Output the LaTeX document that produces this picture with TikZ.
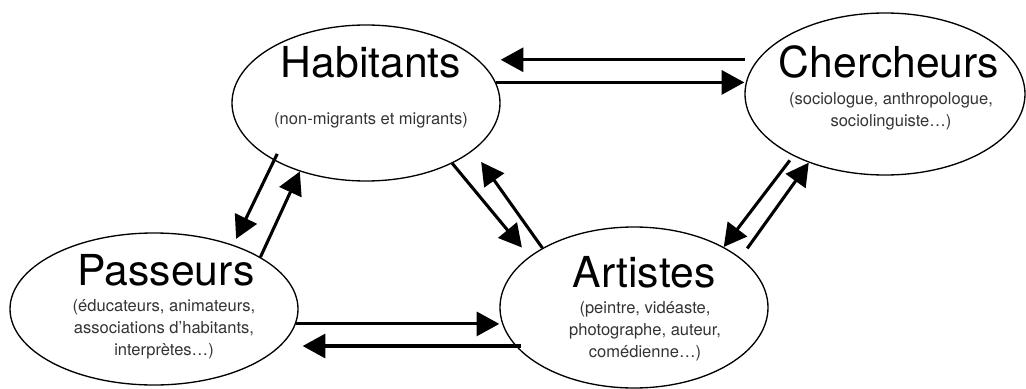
\documentclass[tikz,border=0pt]{standalone}
\usepackage{fontspec}
\setmainfont{TeX Gyre Heros}
\usetikzlibrary{arrows.meta,shapes.geometric}

\tikzset{every picture/.style={line width=0.75pt}}
\tikzset{
  bulle/.style={draw, ellipse, line width=1pt, inner sep=0pt},
  fleche/.style={-{Triangle[length=17pt,width=18pt]}, line width=2.3pt},
  titre/.style={anchor=base, font=\fontsize{32}{38}\selectfont},
  detail/.style={anchor=base, align=center, text=black!80, font=\fontsize{12.4}{16.2}\selectfont}
}

\begin{document}
\begin{tikzpicture}[x=0.75pt,y=0.75pt,yscale=-1,xscale=1]
\useasboundingbox (0,0) rectangle (1026,389);

%Shape: Ellipse [Habitants]
\node[bulle, minimum width=201pt, minimum height=117pt] (hab) at (366,103) {};
%Shape: Ellipse [Chercheurs]
\node[bulle, minimum width=210pt, minimum height=121.5pt] (cher) at (885,94) {};
%Shape: Ellipse [Passeurs]
\node[bulle, minimum width=216pt, minimum height=114pt] (pas) at (154,309) {};
%Shape: Ellipse [Artistes]
\node[bulle, minimum width=201pt, minimum height=120.75pt] (art) at (634,307.5) {};

%Straight Lines [Habitants <-> Chercheurs]
\draw[fleche, shorten <=9.5pt] (cher.165) -- (cher.165 -| hab.east);
\draw[fleche] (hab.9) -- (hab.9 -| cher.west);
%Straight Lines [Passeurs <-> Artistes]
\draw[fleche] (pas.-6) -- (pas.-6 -| art.west);
\draw[fleche, shorten <=-4pt, shorten >=3pt] (art.-162) -- (art.-162 -| pas.east);
%Straight Lines [Habitants <-> Passeurs]
\draw[fleche, shorten <=-5.5pt, shorten >=5pt] (hab.-148) -- (pas.39);
\draw[fleche] (pas.26) -- (hab.-134);
%Straight Lines [Habitants <-> Artistes]
\draw[fleche, shorten >=8.7pt] (hab.-35) -- (art.154);
\draw[fleche, shorten >=10.4pt] (art.147) -- (hab.-24);
%Straight Lines [Chercheurs <-> Artistes]
\draw[fleche, shorten <=4.2pt] (cher.-146) -- (art.34);
\draw[fleche, shorten <=8.7pt] (art.25) -- (cher.-138);

% Text Node (base = last line)
\node[titre] (habt) at (371,77) {Habitants};
\node[detail] (habd) at (371,124) {(non-migrants et migrants)};
% Text Node
\node[titre] (chert) at (889,77) {Chercheurs};
\node[detail] (cherd) at (891,126) {(sociologue, anthropologue,\\ sociolinguiste…)};
% Text Node
\node[titre] (past) at (166,285) {Passeurs};
\node[detail] (pasd) at (164,355) {(éducateurs, animateurs,\\ associations d’habitants,\\ interprètes…)};
% Text Node
\node[titre] (artt) at (644,287) {Artistes};
\node[detail] (artd) at (645,357) {(peintre, vidéaste,\\ photographe, auteur,\\ comédienne…)};

\end{tikzpicture}
\end{document}
